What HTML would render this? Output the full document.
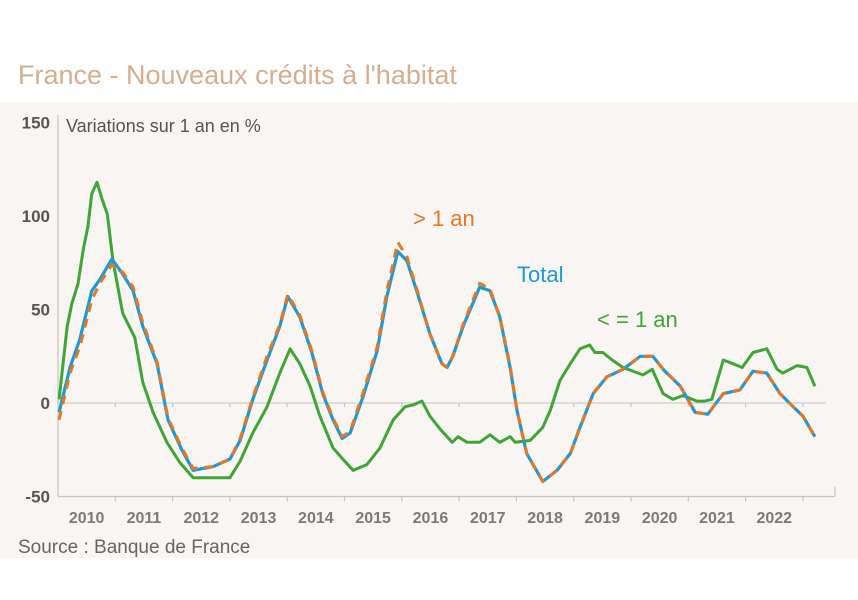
<!DOCTYPE html>
<html><head><meta charset="utf-8"><style>
html,body{margin:0;padding:0;background:#fff;}
svg{display:block;font-family:"Liberation Sans",sans-serif;}
</style></head><body>
<svg id="chart" width="858" height="600">
<rect x="0" y="0" width="858" height="600" fill="#ffffff"/>
<rect x="0" y="102" width="858" height="456" fill="#f8f5f2"/>
<text x="18" y="84" font-size="27" fill="#d8ad8e">France - Nouveaux crédits à l'habitat</text>
<text x="66" y="132" font-size="18" fill="#555">Variations sur 1 an en %</text>
<text x="18" y="553" font-size="19" fill="#666">Source : Banque de France</text>
<g id="axes"></g>
<g id="series"></g>
<text x="413" y="226" font-size="22" fill="#e87722">&gt; 1 an</text>
<text x="517" y="282" font-size="22" fill="#1a9ad6">Total</text>
<text x="597" y="327" font-size="22" fill="#3fa535">&lt; = 1 an</text>
</svg>
<script>
const yTicks=[150,100,50,0,-50];
const years=[2010,2011,2012,2013,2014,2015,2016,2017,2018,2019,2020,2021,2022];
const tTotal=[0.02,.21,.38,.59,.73,.94,1.13,1.31,1.48,1.73,1.92,2.16,2.36,2.71,3.00,3.18,3.40,3.65,3.87,4.01,4.22,4.43,4.62,4.80,4.96,5.10,5.32,5.57,5.74,5.93,6.09,6.27,6.49,6.70,6.79,6.89,7.07,7.36,7.54,7.71,7.89,8.01,8.18,8.46,8.71,8.94,9.11,9.34,9.58,9.86,10.16,10.38,10.56,10.86,11.12,11.34,11.61,11.90,12.13,12.37,12.60,12.83,13.00,13.21];
const total=[-5,19,34,60,66,77,69,60,41,21,-9,-25,-36,-34,-30,-20,2,23,41,57,46,27,5,-9,-19,-16,3,28,57,81,76,59,37,21,19,25,41,62,60,46,19,-4,-27,-42,-36,-27,-13,5,14,18,25,25,18,9,-5,-6,5,7,17,16,5,-2,-7,-18];
const longTerm=[-9,16,30,55,64,74,70,62,43,22,-8,-24,-35,-34,-30,-19,3,25,42,58,47,28,6,-8,-18,-15,5,30,60,86,78,60,37,21,19,25,42,64,61,46,20,-4,-27,-42,-36,-27,-13,5,14,18,25,25,18,9,-5,-6,5,7,17,16,5,-2,-7,-18];
const tShort=[.02,.16,.24,.35,.44,.52,.59,.68,.77,.86,.96,1.13,1.34,1.48,1.66,1.90,2.13,2.36,2.71,3.00,3.18,3.40,3.65,3.87,4.05,4.22,4.40,4.57,4.80,4.97,5.15,5.39,5.62,5.85,6.06,6.20,6.35,6.49,6.67,6.88,6.98,7.14,7.36,7.54,7.71,7.89,7.98,8.24,8.46,8.59,8.76,8.94,9.11,9.28,9.37,9.51,9.67,9.86,10.21,10.37,10.56,10.73,10.91,11.15,11.29,11.41,11.61,11.78,11.94,12.13,12.37,12.55,12.65,12.90,13.07,13.21];
const shortTerm=[2,41,53,64,82,94,112,118,109,101,76,48,35,11,-5,-21,-32,-40,-40,-40,-31,-16,-2,16,29,21,9,-7,-24,-30,-36,-33,-24,-9,-2,-1,1,-7,-14,-21,-18,-21,-21,-17,-21,-18,-21,-20,-13,-4,12,21,29,31,27,27,23,19,15,18,5,2,4,1,1,2,23,21,19,27,29,18,16,20,19,9];

const X0=58, PXY=57.3, Y0=403, PXV=1.87;
const xs=t=>X0+t*PXY;
const ys=v=>Y0-v*PXV;
const NS="http://www.w3.org/2000/svg";
const axes=document.getElementById('axes');
const series=document.getElementById('series');
function mk(tag,attrs,parent){const e=document.createElementNS(NS,tag);for(const k in attrs)e.setAttribute(k,attrs[k]);parent.appendChild(e);return e;}

let e=mk('line',{x1:X0,y1:115,x2:X0,y2:ys(-50),stroke:'#c8c4c0','stroke-width':1.2},axes);


e=mk('line',{x1:X0,y1:ys(-50),x2:835,y2:ys(-50),stroke:'#c8c4c0','stroke-width':1.2},axes);


e=mk('line',{x1:835,y1:ys(-50)-10,x2:835,y2:ys(-50),stroke:'#c8c4c0','stroke-width':1.2},axes);


e=mk('line',{x1:X0,y1:ys(0),x2:826,y2:ys(0),stroke:'#d0ccc8','stroke-width':1.2},axes);


yTicks.forEach(v=>{
  const t=mk('text',{x:50,y:ys(v)+6,'text-anchor':'end','font-size':17,'font-weight':'bold',fill:'#555'},axes);
  t.textContent=String(v);
  
  
});
years.forEach((yr,i)=>{
  const tk=mk('line',{x1:xs(i+1),y1:ys(0),x2:xs(i+1),y2:ys(0)+4,stroke:'#c8c4c0','stroke-width':1.2},axes);
  
  
  const tb=mk('line',{x1:xs(i+1),y1:ys(-50),x2:xs(i+1),y2:ys(-50)+5,stroke:'#c8c4c0','stroke-width':1.2},axes);
  
  
  const t=mk('text',{x:xs(i+0.5),y:523,'text-anchor':'middle','font-size':16,'font-weight':'bold',fill:'#7a7a7a'},axes);
  t.textContent=String(yr);
  
  
});
function pts(ts,vs){return ts.map((t,i)=>xs(t).toFixed(1)+','+ys(vs[i]).toFixed(1)).join(' ');}
let p=mk('polyline',{points:pts(tShort,shortTerm),fill:'none',stroke:'#3fa535','stroke-width':3,'stroke-linejoin':'round'},series);


p=mk('polyline',{points:pts(tTotal,total),fill:'none',stroke:'#1a9ad6','stroke-width':3.2,'stroke-linejoin':'round'},series);


p=mk('polyline',{points:pts(tTotal,longTerm),fill:'none',stroke:'#e87722','stroke-width':3,'stroke-dasharray':'9 7','stroke-linejoin':'round'},series);


</script>
</body></html>
